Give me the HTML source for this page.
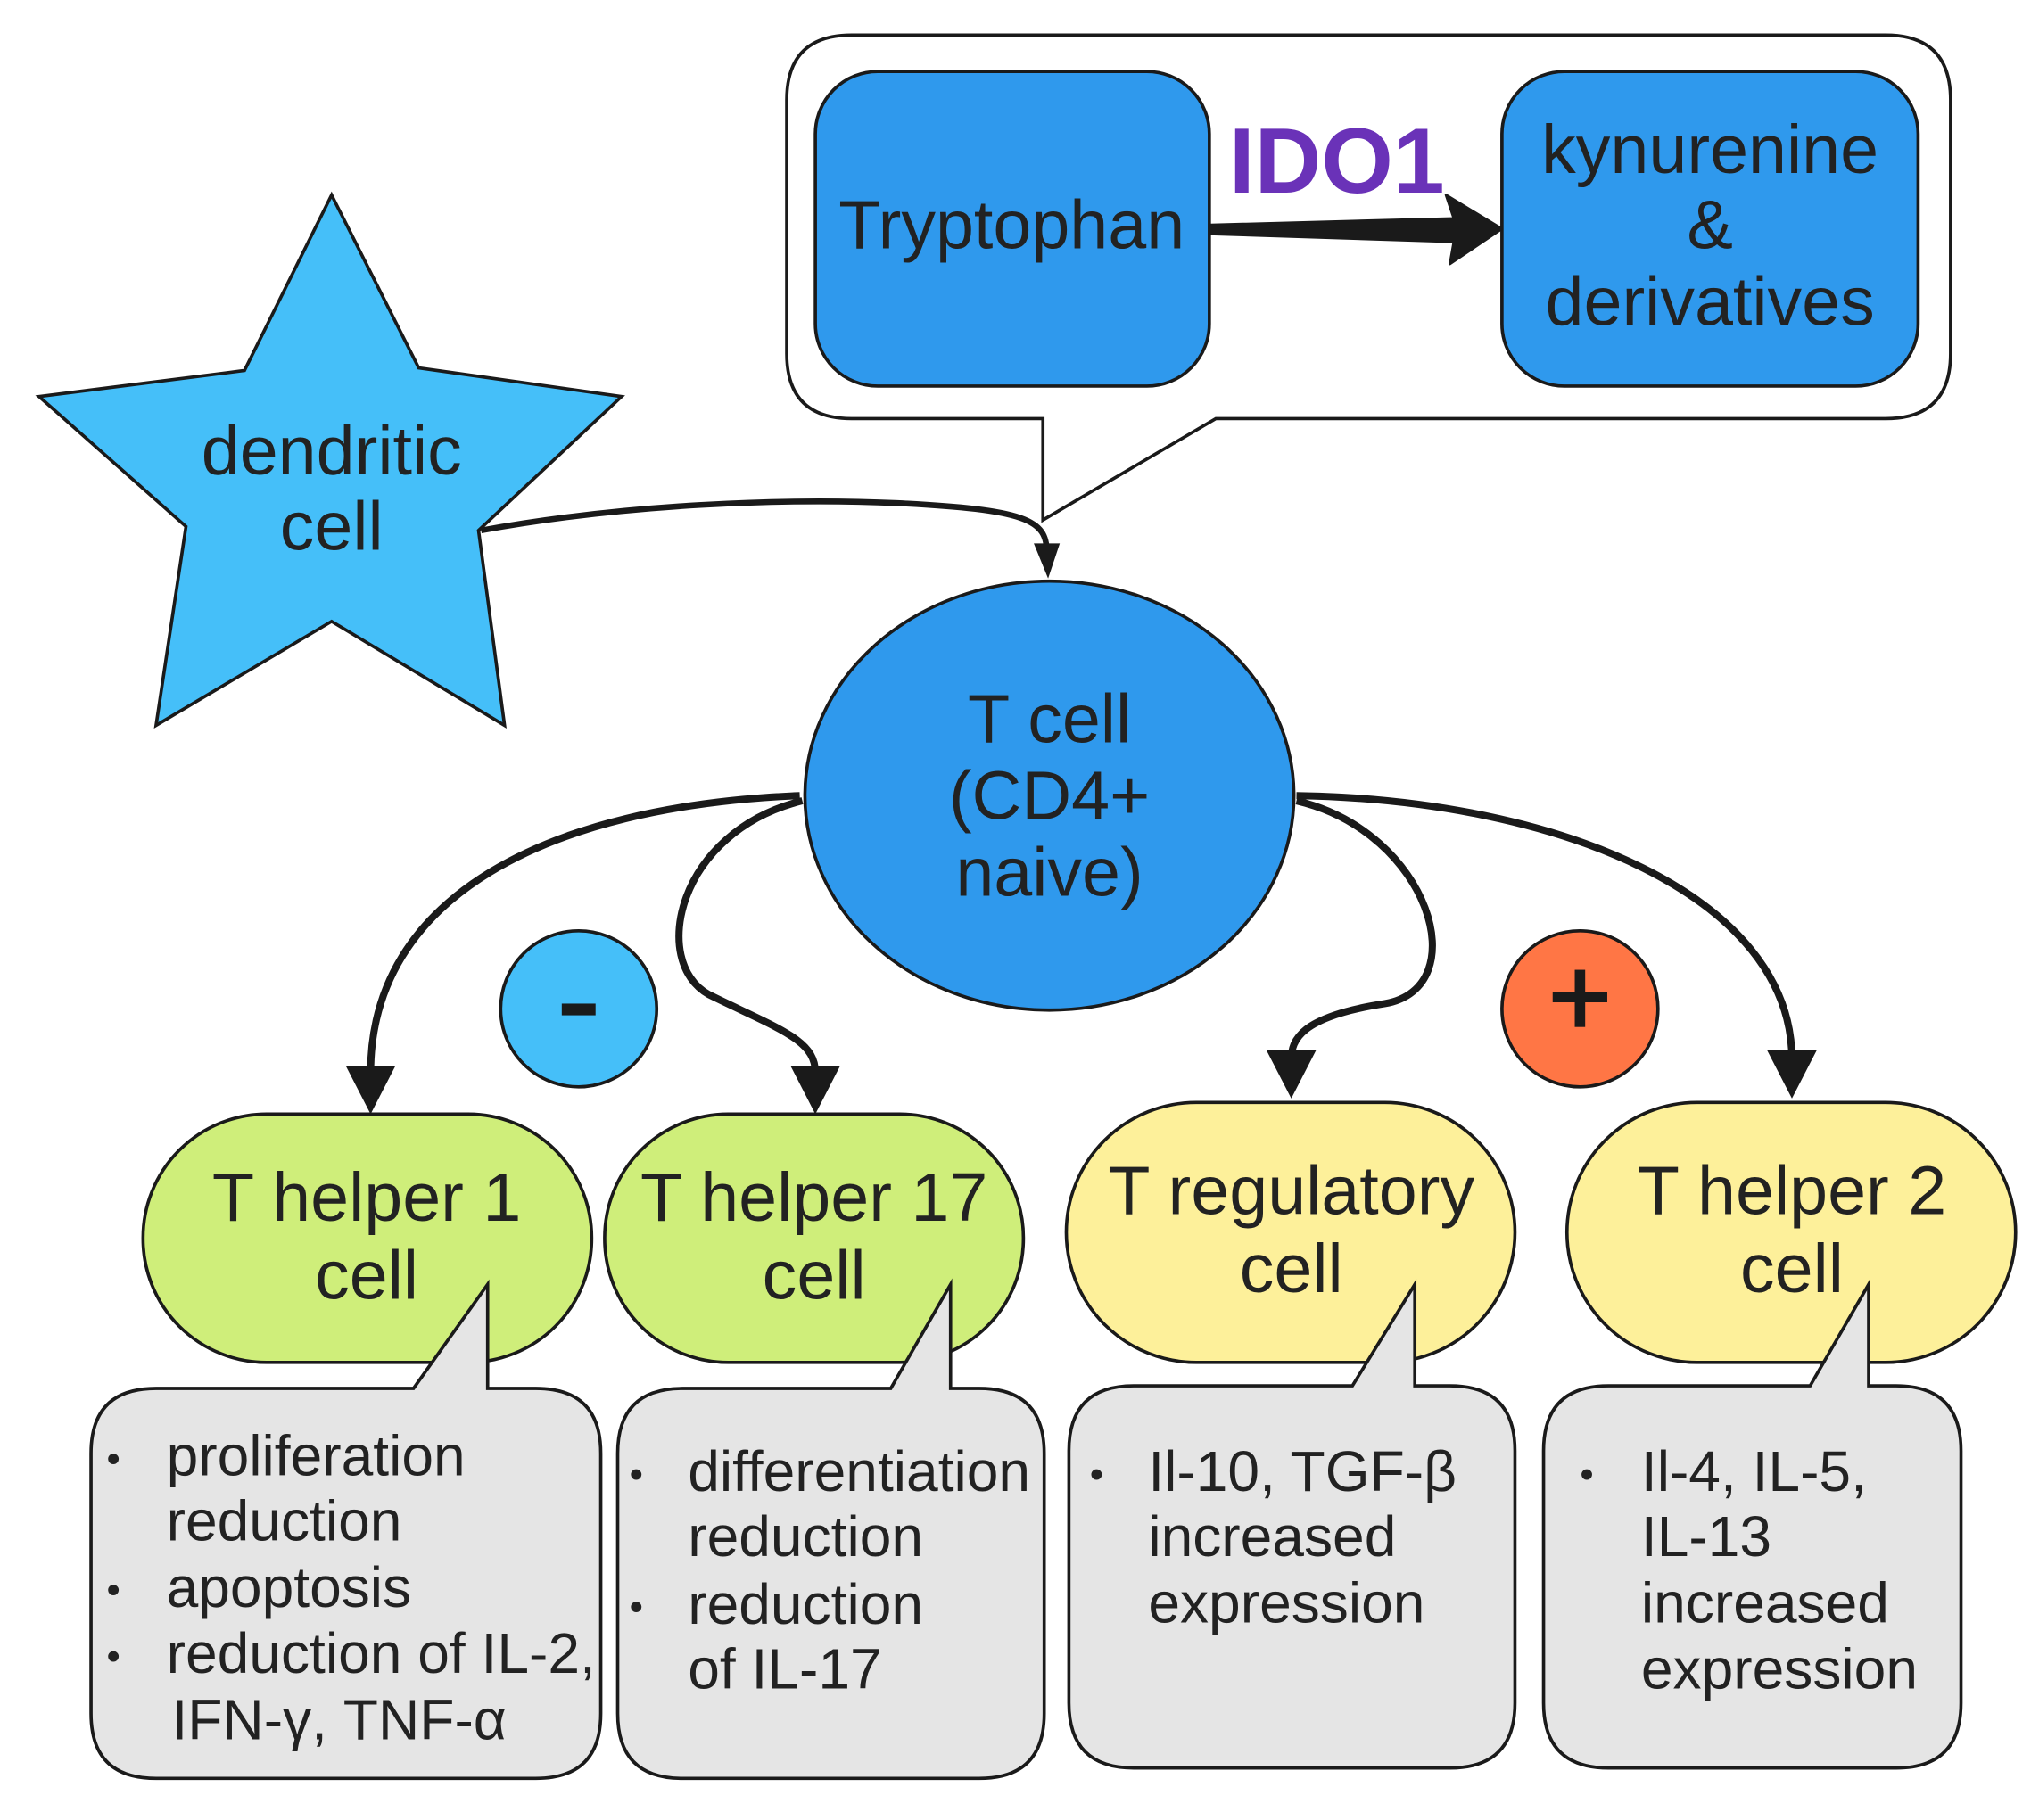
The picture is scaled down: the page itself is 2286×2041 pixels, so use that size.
<!DOCTYPE html>
<html><head><meta charset="utf-8"><style>
html,body{margin:0;padding:0;background:#fff}
svg{display:block}
text{font-family:"Liberation Sans",sans-serif;fill:#222}
</style></head><body>
<svg width="2286" height="2041" viewBox="0 0 1568 1400" preserveAspectRatio="none" xmlns="http://www.w3.org/2000/svg">
<!-- top callout -->
<path d="M655,27 H1450 Q1500,27 1500,77 V272 Q1500,322 1450,322 H935 L802,400 V322 H655 Q605,322 605,272 V77 Q605,27 655,27 Z" fill="#fff" stroke="#1a1a1a" stroke-width="2.5"/>
<rect x="627" y="55" width="303" height="242" rx="48" fill="#2f99ed" stroke="#1a1a1a" stroke-width="2.5"/>
<rect x="1155" y="55" width="320" height="242" rx="48" fill="#2f99ed" stroke="#1a1a1a" stroke-width="2.5"/>
<text x="778" y="191" font-size="53" text-anchor="middle">Tryptophan</text>
<text x="1315" y="133" font-size="53" text-anchor="middle">kynurenine</text>
<text x="1315" y="191" font-size="53" text-anchor="middle">&amp;</text>
<text x="1315" y="250" font-size="53" text-anchor="middle">derivatives</text>
<text x="1028" y="148" font-size="71" font-weight="bold" text-anchor="middle" style="fill:#6a32b8">IDO1</text>
<path d="M931,173 L1118,168 L1112,150 L1155,176 L1115,203 L1118,186 L931,180 Z" fill="#1a1a1a" stroke="#1a1a1a" stroke-width="2" stroke-linejoin="round"/>
<!-- star -->
<polygon points="255,150 322,283 478,305 368,408 388,558 255,478 120,558 143,405 30,305 188,285" fill="#45bff9" stroke="#1a1a1a" stroke-width="2.5"/>
<text x="255" y="365" font-size="53" text-anchor="middle">dendritic</text>
<text x="255" y="423" font-size="53" text-anchor="middle">cell</text>
<!-- dc arrow -->
<path d="M370,408 C480,388 600,383 690,387 C790,392 805,400 805,425" fill="none" stroke="#1a1a1a" stroke-width="4.5"/>
<polygon points="795,418 815,418 806,445" fill="#1a1a1a"/>
<!-- T cell -->
<ellipse cx="807" cy="612" rx="188" ry="165" fill="#2f99ed" stroke="#1a1a1a" stroke-width="2.5"/>
<text x="807" y="571" font-size="53" text-anchor="middle">T cell</text>
<text x="807" y="630" font-size="53" text-anchor="middle">(CD4+</text>
<text x="807" y="689" font-size="53" text-anchor="middle">naive)</text>
<!-- arrows to subsets -->
<g fill="none" stroke="#1a1a1a" stroke-width="5.5">
<path d="M615,612 C420,620 285,690 285,825"/>
<path d="M617,616 C520,640 500,740 545,765 C600,792 627,800 627,825"/>
<path d="M997,616 C1100,640 1135,760 1065,772 C1000,782 993,800 993,815"/>
<path d="M997,612 C1200,615 1378,690 1378,815"/>
</g>
<g fill="#1a1a1a">
<polygon points="266,820 304,820 285,857"/>
<polygon points="608,820 646,820 627,857"/>
<polygon points="974,808 1012,808 993,845"/>
<polygon points="1359,808 1397,808 1378,845"/>
</g>
<circle cx="445" cy="776" r="60" fill="#45bff9" stroke="#1a1a1a" stroke-width="2.5"/>
<rect x="432" y="772" width="26" height="9" fill="#1a1a1a"/>
<circle cx="1215" cy="776" r="60" fill="#ff7645" stroke="#1a1a1a" stroke-width="2.5"/>
<rect x="1194" y="763" width="42" height="8" fill="#1a1a1a"/><rect x="1211" y="746" width="8" height="44" fill="#1a1a1a"/>
<!-- subset boxes -->
<rect x="110" y="857" width="345" height="191" rx="95" fill="#cfee7a" stroke="#1a1a1a" stroke-width="2.5"/>
<rect x="465" y="857" width="322" height="191" rx="95" fill="#cfee7a" stroke="#1a1a1a" stroke-width="2.5"/>
<rect x="820" y="848" width="345" height="200" rx="100" fill="#fdf09a" stroke="#1a1a1a" stroke-width="2.5"/>
<rect x="1205" y="848" width="345" height="200" rx="100" fill="#fdf09a" stroke="#1a1a1a" stroke-width="2.5"/>
<g font-size="53" text-anchor="middle">
<text x="282" y="939">T helper 1</text><text x="282" y="999">cell</text>
<text x="626" y="939">T helper 17</text><text x="626" y="999">cell</text>
<text x="993" y="934">T regulatory</text><text x="993" y="994">cell</text>
<text x="1378" y="934">T helper 2</text><text x="1378" y="994">cell</text>
</g>
<!-- gray callouts -->
<g fill="#e5e5e5" stroke="#1a1a1a" stroke-width="2.5">
<path d="M120,1068 H318 L375,988 V1068 H412 Q462,1068 462,1118 V1318 Q462,1368 412,1368 H120 Q70,1368 70,1318 V1118 Q70,1068 120,1068 Z"/>
<path d="M525,1068 H685 L731,988 V1068 H753 Q803,1068 803,1118 V1318 Q803,1368 753,1368 H525 Q475,1368 475,1318 V1118 Q475,1068 525,1068 Z"/>
<path d="M872,1066 H1040 L1088,988 V1066 H1115 Q1165,1066 1165,1116 V1310 Q1165,1360 1115,1360 H872 Q822,1360 822,1310 V1116 Q822,1066 872,1066 Z"/>
<path d="M1237,1066 H1392 L1437,988 V1066 H1458 Q1508,1066 1508,1116 V1310 Q1508,1360 1458,1360 H1237 Q1187,1360 1187,1310 V1116 Q1187,1066 1237,1066 Z"/>
</g>
<g font-size="44">
<g font-size="30">
<text x="82" y="1132">•</text><text x="82" y="1233">•</text><text x="82" y="1284">•</text>
<text x="484" y="1144">•</text><text x="484" y="1246">•</text>
<text x="838" y="1144">•</text><text x="1215" y="1144">•</text>
</g>
<text x="128" y="1135">proliferation</text>
<text x="128" y="1185">reduction</text>
<text x="128" y="1236">apoptosis</text>
<text x="128" y="1287">reduction of IL-2,</text>
<text x="132" y="1338">IFN-γ, TNF-α</text>
<text x="529" y="1147">differentiation</text>
<text x="529" y="1197">reduction</text>
<text x="529" y="1249">reduction</text>
<text x="529" y="1299">of IL-17</text>
<text x="883" y="1147">Il-10, TGF-β</text>
<text x="883" y="1197">increased</text>
<text x="883" y="1248">expression</text>
<text x="1262" y="1147">Il-4, IL-5,</text>
<text x="1262" y="1197">IL-13</text>
<text x="1262" y="1248">increased</text>
<text x="1262" y="1299">expression</text>
</g>
</svg>
</body></html>
